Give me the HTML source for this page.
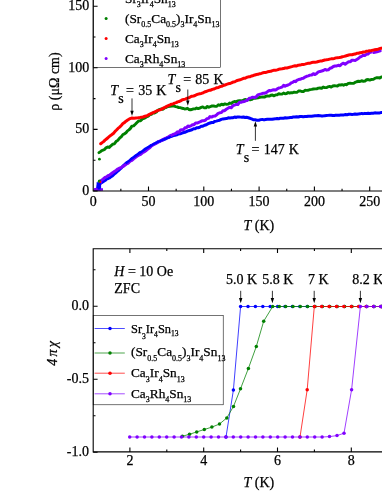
<!DOCTYPE html>
<html><head><meta charset="utf-8"><title>chart</title>
<style>html,body{margin:0;padding:0;background:#fff;}svg{display:block;}text{font-family:"Liberation Serif",serif;fill:#000;}.t{font-size:14px;}.a{font-size:14px;}.l{font-size:13.3px;}.i{font-style:italic;}svg{will-change:transform;}text{stroke:#000;stroke-width:0.25px;}.ax{stroke:#000;stroke-width:1.1;fill:none;}.lg{stroke:#000;stroke-width:0.55;fill:#fff;}</style></head><body>
<svg width="382" height="494" viewBox="0 0 382 494">
<rect width="382" height="494" fill="#fff"/>
<g fill="none" stroke-linejoin="round" stroke-linecap="round">
<polyline stroke="#0000ff" stroke-width="3.0" points="97.5,189.57 98.2,185.15 100.5,183.28 102,182.43 103.5,181.38 105,180.55 106.47,179.14 107.95,178.53 109.43,177.94 110.9,176.89 112.6,175.71 114.3,173.9 116,172.78 117.8,170.98 119.6,169.49 121.4,167.84 123.1,165.91 124.8,164.43 126.5,162.87 128.3,161.82 130.1,160.29 131.9,158.5 133.6,157.64 135.3,156.02 137,155.07 138.8,153.58 140.6,152.3 142.4,151.62 144.1,149.99 145.8,148.76 147.5,147.99 149.27,146.89 151.03,145.51 152.8,144.88 154.53,143.76 156.27,142.97 158,141.82 159.77,141.46 161.53,140.51 163.3,139.88 164.98,139.19 166.65,138.18 168.32,137.57 170,136.8 171.7,136.24 173.4,135.65 175.1,135.25 176.8,134.89 178.5,133.99 180.2,133.85 181.9,133.1 183.58,132.49 185.27,132.19 186.95,131.39 188.63,130.69 190.32,130.19 192,129.72 193.54,128.82 195.09,128.86 196.63,127.77 198.17,127.69 199.71,127.24 201.26,126.23 202.8,126.17 204.6,125.24 206.4,124.7 208.2,123.68 210,123.03 211.6,122.53 213.2,122.41 214.8,121.38 216.4,121.13 218,120.66 219.67,120.2 221.33,119.37 223,118.91 224.75,118.71 226.5,118.57 228.25,117.86 230,117.95 231.55,117.83 233.1,117.72 234.65,117.07 236.2,117.47 237.65,116.9 239.1,117 240.55,117.12 242,117.25 243.53,117 245.07,117.45 246.6,117.33 248.3,117.74 250,118.29 251.6,118.96 253.2,119.65 255.1,119.79 257,120.21 258.8,120.26 260.6,119.63 262.4,119.43 264.02,119.89 265.65,119.52 267.27,119.34 268.9,119.14 270.52,119.26 272.15,119.3 273.77,118.97 275.4,118.85 277.04,118.47 278.67,118.82 280.31,118.13 281.95,118.25 283.59,118.29 285.23,117.7 286.86,117.9 288.5,117.87 290.14,117.54 291.77,117.5 293.41,116.95 295.05,117.01 296.69,116.7 298.33,116.98 299.96,116.51 301.6,116.47 303.27,116.73 304.95,116.57 306.62,116.57 308.29,116.18 309.96,116.13 311.64,116.2 313.31,115.98 314.98,115.79 316.65,115.79 318.33,115.56 320,115.63 321.6,115.95 323.2,115.89 324.8,115.64 326.4,115.52 328,115.38 329.6,115.19 331.2,115.25 332.8,115.51 334.4,115.52 336,115.12 337.6,115.28 339.2,115.18 340.8,115.04 342.4,114.93 344,114.89 345.6,114.56 347.2,114.67 348.8,114.32 350.4,114.35 352,114.43 353.6,114.29 355.2,113.96 356.8,114.25 358.4,113.98 360,113.85 361.64,113.41 363.29,113.64 364.93,113.37 366.57,113.53 368.21,113.31 369.86,113.43 371.5,113.24 373.14,113.24 374.79,112.87 376.43,112.96 378.07,112.92 379.71,112.88 381.36,112.5 383,112.5"/>
<polyline stroke="#008000" stroke-width="2.9" points="99,152.61 100.5,151.57 101.75,150.55 103,150.16 104.5,149.44 106,147.85 107.63,147 109.27,147.47 110.9,145.84 112.6,144.27 114.3,143.88 116,141.56 117.8,140.37 119.6,138.1 121.4,136.61 122.93,134.48 124.47,133.8 126,132.75 127.47,130.88 128.95,129.86 130.43,128.41 131.9,126.15 133.6,125.85 135.3,124.27 137,122.5 138.8,120.83 140.6,120.81 142.4,118.96 143.93,118.39 145.47,117.7 147,116.52 148.45,116.06 149.9,114.49 151.35,114.33 152.8,113.02 154.6,112.95 156.4,112.07 158.2,110.1 160,109.35 161.5,108.83 163,109.3 164.5,107.85 166,107.49 168,106.45 170,106.21 172,106.03 174,105.98 175.58,106.61 177.16,106.89 178.74,107.65 180.32,107.59 181.9,108.24 183.27,108.47 184.63,109 186,108.86 187.43,108.26 188.87,109.47 190.3,109.8 191.87,109.54 193.43,108.87 195,108.92 196.56,107.95 198.12,108.66 199.68,108.05 201.24,107.4 202.8,106.85 204.33,107.86 205.87,107.9 207.4,106.38 208.93,107.28 210.47,106.53 212,105.98 213.6,105.93 215.2,106.38 216.8,106.28 218.4,104.78 220,105.37 221.63,104.16 223.26,104.81 224.89,103.88 226.51,104.34 228.14,104.14 229.77,103.07 231.4,103.45 232.96,102.12 234.52,101.49 236.08,101.98 237.64,100.84 239.2,100.8 240.76,100.82 242.32,100.84 243.88,99.86 245.44,99.4 247,100.35 248.58,99.21 250.16,99.87 251.74,99.46 253.32,98.38 254.9,98.19 256.48,97.97 258.06,97.85 259.64,97.46 261.22,97.1 262.8,96.88 264.4,97.14 266,96.26 267.6,95.92 269.2,96.13 270.8,95.18 272.4,95.05 274,95.84 275.6,94.93 277.2,94.75 278.8,93.72 280.4,94.1 282,94.12 283.52,93.07 285.05,93.75 286.57,93.56 288.1,92.49 289.62,93.13 291.15,92.67 292.68,92.78 294.2,92.08 295.65,92.41 297.1,92.26 298.55,90.98 300,90.84 301.67,91.49 303.33,91.64 305,90.3 306.67,90.33 308.33,90.26 310,89.58 311.67,89.37 313.33,89.02 315,88.83 316.67,88.89 318.33,88.18 320,88.02 321.6,88.39 323.2,87.05 324.8,87.64 326.4,87.66 328,86.8 329.6,86.45 331.2,87.1 332.8,86.03 334.4,85.73 335.91,85.86 337.43,86.01 338.94,84.87 340.46,84.96 341.97,84.74 343.49,85.24 345,84.41 346.67,84.7 348.33,83.34 350,83.26 351.67,83.39 353.33,83.41 355,82.43 356.67,81.75 358.33,81.26 360,81.54 361.64,80.71 363.29,81.32 364.93,81.04 366.57,79.74 368.21,79.56 369.86,80.03 371.5,79.46 373.14,79.39 374.79,78.38 376.43,77.73 378.07,77.65 379.71,78.08 381.36,76.98 383,77"/>
<polyline stroke="#8000ff" stroke-width="3.0" points="95,189.69 96.5,189.18 98,189.1 100,183.73 101,180.62 103,179.07 105,177.42 106.47,176.85 107.95,175.71 109.43,175.11 110.9,174.03 112.6,172.71 114.3,171.59 116,170.51 117.8,169.03 119.6,168.06 121.4,167.28 123.1,166.45 124.8,165.18 126.5,164.03 128.3,163.07 130.1,161.15 131.9,160.33 133.6,158.77 135.3,157.48 137,156.26 138.8,155.21 140.6,154.37 142.4,152.8 144.1,151.88 145.8,150.75 147.5,149.42 149.27,148.1 151.03,146.36 152.8,144.92 154.53,144.01 156.27,143.31 158,142.15 159.77,141.15 161.53,140.39 163.3,139.37 164.92,138.43 166.54,137.91 168.16,137.01 169.78,135.88 171.4,135.25 172.9,134.47 174.4,133.95 175.9,133.38 177.4,131.85 178.9,132.35 180.4,130.06 181.9,129.85 183.4,129.69 184.9,127.83 186.4,127.67 187.9,126.08 189.4,126.45 190.9,125.85 192.4,124.73 194,124.66 195.6,123.03 197.2,123.1 198.8,122.3 200.4,121.66 202,120.82 203.6,120.81 205.2,120.3 206.8,118.75 208.4,118.4 210,116.61 211.62,117.04 213.25,116.21 214.88,116.11 216.5,115.08 218.12,113.39 219.75,112.84 221.38,112.63 223,110.74 224.65,110.66 226.3,109.25 227.95,108.29 229.6,107.31 231.25,107.71 232.9,105.68 234.55,105.02 236.2,104.4 237.84,104.52 239.47,102.35 241.11,102.26 242.75,101.69 244.39,101.54 246.03,100.67 247.66,100.01 249.3,98.2 250.99,97.85 252.68,97.15 254.36,97.49 256.05,97.02 257.74,94.97 259.43,94.42 261.11,93.92 262.8,93.32 264.4,93.19 266,92.79 267.6,91.62 269.2,90.57 270.8,90.74 272.4,90.06 274,89.84 275.6,89.95 277.2,88.89 278.8,87.99 280.4,87.6 282,87.12 283.52,85.38 285.05,86.29 286.57,85.47 288.1,85.02 289.62,84.27 291.15,82.93 292.68,82.33 294.2,81.19 295.65,81.62 297.1,80.06 298.55,79.55 300,79.28 301.67,78.53 303.33,78.2 305,77.02 306.67,76.27 308.33,75.88 310,75.13 311.67,74.95 313.33,73.68 315,74.55 316.67,73.42 318.33,71.93 320,71.45 321.67,71.03 323.33,70.46 325,69.42 326.67,70.13 328.33,69.79 330,68.24 331.67,67.75 333.33,66.52 335,66.03 336.67,65.95 338.33,65.29 340,65.79 341.73,64.01 343.47,63.17 345.2,64.26 346.93,62.92 348.67,61.65 350.4,61.78 352,60.13 353.6,60.32 355.2,60.41 356.8,59.49 358.4,58.47 360,56.97 361.58,56.39 363.17,55.27 364.75,55.59 366.33,54.39 367.92,54.07 369.5,52.49 370.8,52.3"/>
<polyline stroke="#8000ff" stroke-width="2.8" points="373.6,52.6 377,51.8 380.3,51"/>
<polyline stroke="#0000ff" stroke-width="2.2" points="126.5,163 131.9,158.7 137,155 142.4,151.4 147.5,147.7 152.8,144.6 158,142 163.3,139.6 170,137"/>
<polyline stroke="#ff0000" stroke-width="3.0" points="100.7,143.78 102.13,142.63 103.57,141.61 105,140.18 106.47,138.98 107.95,137.79 109.43,136.37 110.9,135.31 112.25,134.26 113.6,133.25 115.07,131.4 116.53,130 118,128.4 119.63,127.15 121.27,125.5 122.9,123.57 124.45,122.64 126,121.23 127.7,120.03 129.4,118.96 130.7,118.43 132,118.06 134,118.26 136,117.98 137.85,117.85 139.7,117.67 141.35,117.17 143,116.98 145,116.27 147,115.77 148.95,114.61 150.9,113.67 152.6,112.83 154.3,112.15 156,111.28 158,110.34 160,109.85 161.67,109.05 163.33,108.17 165,107.3 166.67,106.37 168.33,105.6 170,104.89 171.55,104.16 173.1,103.88 174.65,103.08 176.2,102.67 177.62,101.87 179.05,101.58 180.47,100.95 181.9,99.95 183.58,99.42 185.27,99.14 186.95,98.28 188.63,97.91 190.32,96.98 192,96.19 193.56,95.94 195.12,95.49 196.69,94.71 198.25,94.09 199.81,93.69 201.38,93.48 202.94,92.85 204.5,92.01 206.05,91.53 207.6,90.92 209.15,90.36 210.7,90.19 212.25,89.34 213.8,88.99 215.35,88.39 216.9,87.73 218.45,87.46 220,86.62 221.63,86.3 223.26,85.47 224.89,85.05 226.51,84.37 228.14,83.83 229.77,83.61 231.4,82.95 233.12,82.06 234.84,81.71 236.56,80.74 238.28,80.19 240,79.78 241.75,79.12 243.5,78.3 245.25,78.19 247,77.26 248.58,76.83 250.16,76.64 251.74,75.96 253.32,75.5 254.9,74.94 256.48,74.5 258.06,74.29 259.64,73.67 261.22,73.4 262.8,72.84 264.4,72.53 266,72.43 267.6,71.84 269.2,71.54 270.8,71.33 272.4,70.64 274,70.28 275.6,70.3 277.2,69.91 278.8,69.27 280.4,68.89 282,68.82 283.64,68.58 285.27,67.88 286.91,67.92 288.55,67.55 290.18,67.07 291.82,66.64 293.45,66.15 295.09,65.78 296.73,65.9 298.36,65.21 300,65.1 301.67,64.56 303.33,64.53 305,64.1 306.67,63.63 308.33,63.25 310,63.21 311.67,62.57 313.33,62.33 315,62.18 316.67,62.01 318.33,61.57 320,61.09 321.6,61.1 323.2,60.43 324.8,60.02 326.4,59.84 328,59.62 329.6,59.11 331.2,58.86 332.8,58.65 334.4,58.44 336,57.87 337.6,57.63 339.2,57.55 340.8,57.24 342.4,56.73 344,56.4 345.6,55.99 347.2,55.42 348.8,55.02 350.4,54.66 352,54.76 353.6,54.3 355.2,54.08 356.8,53.26 358.4,53.22 360,52.79 361.64,52.57 363.29,52.01 364.93,52 366.57,51.19 368.21,51.07 369.86,50.82 371.5,50.55 373.14,50.12 374.79,49.75 376.43,49.45 378.07,49.16 379.71,48.53 381.36,48.34 383,47.9"/>
</g>
<g>
<rect x="96.6" y="182.2" width="4.5" height="8.6" fill="#0000ff"/>
<rect x="94" y="188.2" width="9" height="2.6" fill="#8000ff"/><rect x="97.6" y="186.5" width="3" height="3" fill="#0000ff"/>
<circle cx="99.4" cy="159.2" r="1.4" fill="#008000"/>
<circle cx="99.4" cy="181.2" r="1.6" fill="#008000"/>
<circle cx="100.3" cy="182" r="1.0" fill="#ff0000"/>
</g>
<rect class="lg" x="93.2" y="-5" width="127.2" height="72.6"/>
<circle cx="106.1" cy="-1.5" r="1.5" fill="#0000ff"/>
<circle cx="106.1" cy="18.5" r="1.5" fill="#008000"/>
<circle cx="106.1" cy="38.5" r="1.5" fill="#ff0000"/>
<circle cx="106.1" cy="58.5" r="1.5" fill="#8000ff"/>
<text class="l" x="125" y="3"><tspan dy="0">Sr</tspan><tspan font-size="8px" dy="4">3</tspan><tspan dy="-4">Ir</tspan><tspan font-size="8px" dy="4">4</tspan><tspan dy="-4">Sn</tspan><tspan font-size="8px" dy="4">13</tspan></text>
<text class="l" x="125" y="23"><tspan dy="0">(Sr</tspan><tspan font-size="8px" dy="4">0.5</tspan><tspan dy="-4">Ca</tspan><tspan font-size="8px" dy="4">0.5</tspan><tspan dy="-4">)</tspan><tspan font-size="8px" dy="4">3</tspan><tspan dy="-4">Ir</tspan><tspan font-size="8px" dy="4">4</tspan><tspan dy="-4">Sn</tspan><tspan font-size="8px" dy="4">13</tspan></text>
<text class="l" x="125" y="43"><tspan dy="0">Ca</tspan><tspan font-size="8px" dy="4">3</tspan><tspan dy="-4">Ir</tspan><tspan font-size="8px" dy="4">4</tspan><tspan dy="-4">Sn</tspan><tspan font-size="8px" dy="4">13</tspan></text>
<text class="l" x="125" y="63"><tspan dy="0">Ca</tspan><tspan font-size="8px" dy="4">3</tspan><tspan dy="-4">Rh</tspan><tspan font-size="8px" dy="4">4</tspan><tspan dy="-4">Sn</tspan><tspan font-size="8px" dy="4">13</tspan></text>
<path class="ax" d="M93.2 -2V191 H384"/>
<path class="ax" d="M93.2 191h4.4M93.2 160.2h2.3M93.2 129.4h4.4M93.2 98.6h2.3M93.2 67.8h4.4M93.2 37h2.3M93.2 6.2h4.4M120.85 191v-2.3M148.5 191v-4.4M176.15 191v-2.3M203.8 191v-4.4M231.45 191v-2.3M259.1 191v-4.4M286.75 191v-2.3M314.4 191v-4.4M342.05 191v-2.3M369.7 191v-4.4"/>
<text class="t" text-anchor="end" x="89.3" y="194.9">0</text>
<text class="t" text-anchor="end" x="89.3" y="133.3">50</text>
<text class="t" text-anchor="end" x="89.3" y="71.7">100</text>
<text class="t" text-anchor="end" x="89.3" y="10.1">150</text>
<text class="t" text-anchor="middle" x="93.2" y="206.3">0</text>
<text class="t" text-anchor="middle" x="148.5" y="206.3">50</text>
<text class="t" text-anchor="middle" x="203.8" y="206.3">100</text>
<text class="t" text-anchor="middle" x="259.1" y="206.3">150</text>
<text class="t" text-anchor="middle" x="314.4" y="206.3">200</text>
<text class="t" text-anchor="middle" x="369.7" y="206.3">250</text>
<text class="a" x="243.5" y="229.6"><tspan class="i">T</tspan> (K)</text>
<text class="a" text-anchor="middle" transform="translate(58.6 81.5) rotate(-90)">ρ (μΩ cm)</text>
<text class="a" x="110.3" y="95"><tspan class="i">T</tspan><tspan font-size="14px" dy="7.6" dx="0.2">s</tspan><tspan dy="-7.6" dx="-1.9" word-spacing="0.7"> = 35 K</tspan></text>
<text class="a" x="167.5" y="84"><tspan class="i">T</tspan><tspan font-size="14px" dy="7.6" dx="0.2">s</tspan><tspan dy="-7.6" dx="-1.9" word-spacing="0.7"> = 85 K</tspan></text>
<text class="a" x="235.8" y="154"><tspan class="i">T</tspan><tspan font-size="14px" dy="7.6" dx="0.2">s</tspan><tspan dy="-7.6" dx="-1.9" word-spacing="0.7"> = 147 K</tspan></text>
<path d="M132 98.4V113" stroke="#000" stroke-width="0.8" fill="none"/><path d="M132 116l-1.7 -5.2h3.4z" fill="#000"/>
<path d="M187.8 89.5V102.8" stroke="#000" stroke-width="0.8" fill="none"/><path d="M187.8 105.8l-1.7 -5.2h3.4z" fill="#000"/>
<path d="M255.4 140.8V124.2" stroke="#000" stroke-width="0.8" fill="none"/><path d="M255.4 121.2l-1.7 5.2h3.4z" fill="#000"/>
<g>
<polyline fill="none" stroke="#0000ff" stroke-width="0.75" points="226,437 233.4,390 240.6,306.5 248,306.5 255.4,306.5 262.8,306.5 270.2,306.5 277.6,306.5 285,306.5 292.4,306.5 299.8,306.5 307.2,306.5 314.6,306.5 322,306.5 329.4,306.5 336.8,306.5 344.2,306.5 351.6,306.5 359,306.5 366.4,306.5 373.8,306.5 381.2,306.5 388.6,306.5 396,306.5"/><circle cx="226" cy="437" r="1.75" fill="#0000ff"/><circle cx="233.4" cy="390" r="1.75" fill="#0000ff"/><circle cx="240.6" cy="306.5" r="1.75" fill="#0000ff"/><circle cx="248" cy="306.5" r="1.75" fill="#0000ff"/><circle cx="255.4" cy="306.5" r="1.75" fill="#0000ff"/><circle cx="262.8" cy="306.5" r="1.75" fill="#0000ff"/><circle cx="270.2" cy="306.5" r="1.75" fill="#0000ff"/><circle cx="277.6" cy="306.5" r="1.75" fill="#0000ff"/><circle cx="285" cy="306.5" r="1.75" fill="#0000ff"/><circle cx="292.4" cy="306.5" r="1.75" fill="#0000ff"/><circle cx="299.8" cy="306.5" r="1.75" fill="#0000ff"/><circle cx="307.2" cy="306.5" r="1.75" fill="#0000ff"/><circle cx="314.6" cy="306.5" r="1.75" fill="#0000ff"/><circle cx="322" cy="306.5" r="1.75" fill="#0000ff"/><circle cx="329.4" cy="306.5" r="1.75" fill="#0000ff"/><circle cx="336.8" cy="306.5" r="1.75" fill="#0000ff"/><circle cx="344.2" cy="306.5" r="1.75" fill="#0000ff"/><circle cx="351.6" cy="306.5" r="1.75" fill="#0000ff"/><circle cx="359" cy="306.5" r="1.75" fill="#0000ff"/><circle cx="366.4" cy="306.5" r="1.75" fill="#0000ff"/><circle cx="373.8" cy="306.5" r="1.75" fill="#0000ff"/><circle cx="381.2" cy="306.5" r="1.75" fill="#0000ff"/><circle cx="388.6" cy="306.5" r="1.75" fill="#0000ff"/><circle cx="396" cy="306.5" r="1.75" fill="#0000ff"/>
<polyline fill="none" stroke="#008000" stroke-width="0.75" points="182.4,436.2 189.5,434.3 196.7,431.9 204.3,429.5 211.9,427.1 219.5,424 226.8,417.9 233.5,406.4 240.5,388.8 248.4,368.4 256.3,346.5 263.7,321.2 272.7,306.5 279.3,306.5 285.7,306.5 293,306.5 300.3,306.5 307.6,306.5 315,306.5 322.4,306.5 329.8,306.5 337.2,306.5 344.6,306.5 352,306.5 359.4,306.5 366.8,306.5 374.2,306.5 381.6,306.5 389,306.5 396.4,306.5"/><circle cx="182.4" cy="436.2" r="1.75" fill="#008000"/><circle cx="189.5" cy="434.3" r="1.75" fill="#008000"/><circle cx="196.7" cy="431.9" r="1.75" fill="#008000"/><circle cx="204.3" cy="429.5" r="1.75" fill="#008000"/><circle cx="211.9" cy="427.1" r="1.75" fill="#008000"/><circle cx="219.5" cy="424" r="1.75" fill="#008000"/><circle cx="226.8" cy="417.9" r="1.75" fill="#008000"/><circle cx="233.5" cy="406.4" r="1.75" fill="#008000"/><circle cx="240.5" cy="388.8" r="1.75" fill="#008000"/><circle cx="248.4" cy="368.4" r="1.75" fill="#008000"/><circle cx="256.3" cy="346.5" r="1.75" fill="#008000"/><circle cx="263.7" cy="321.2" r="1.75" fill="#008000"/><circle cx="272.7" cy="306.5" r="1.75" fill="#008000"/><circle cx="279.3" cy="306.5" r="1.75" fill="#008000"/><circle cx="285.7" cy="306.5" r="1.75" fill="#008000"/><circle cx="293" cy="306.5" r="1.75" fill="#008000"/><circle cx="300.3" cy="306.5" r="1.75" fill="#008000"/><circle cx="307.6" cy="306.5" r="1.75" fill="#008000"/><circle cx="315" cy="306.5" r="1.75" fill="#008000"/><circle cx="322.4" cy="306.5" r="1.75" fill="#008000"/><circle cx="329.8" cy="306.5" r="1.75" fill="#008000"/><circle cx="337.2" cy="306.5" r="1.75" fill="#008000"/><circle cx="344.6" cy="306.5" r="1.75" fill="#008000"/><circle cx="352" cy="306.5" r="1.75" fill="#008000"/><circle cx="359.4" cy="306.5" r="1.75" fill="#008000"/><circle cx="366.8" cy="306.5" r="1.75" fill="#008000"/><circle cx="374.2" cy="306.5" r="1.75" fill="#008000"/><circle cx="381.6" cy="306.5" r="1.75" fill="#008000"/><circle cx="389" cy="306.5" r="1.75" fill="#008000"/><circle cx="396.4" cy="306.5" r="1.75" fill="#008000"/>
<polyline fill="none" stroke="#ff0000" stroke-width="0.75" points="300,437 307.2,389.7 314.3,306.5 321.7,306.5 329.1,306.5 336.5,306.5 343.9,306.5 351.3,306.5 358.7,306.5 366.1,306.5 373.5,306.5 380.9,306.5 388.3,306.5 395.7,306.5"/><circle cx="300" cy="437" r="1.75" fill="#ff0000"/><circle cx="307.2" cy="389.7" r="1.75" fill="#ff0000"/><circle cx="314.3" cy="306.5" r="1.75" fill="#ff0000"/><circle cx="321.7" cy="306.5" r="1.75" fill="#ff0000"/><circle cx="329.1" cy="306.5" r="1.75" fill="#ff0000"/><circle cx="336.5" cy="306.5" r="1.75" fill="#ff0000"/><circle cx="343.9" cy="306.5" r="1.75" fill="#ff0000"/><circle cx="351.3" cy="306.5" r="1.75" fill="#ff0000"/><circle cx="358.7" cy="306.5" r="1.75" fill="#ff0000"/><circle cx="366.1" cy="306.5" r="1.75" fill="#ff0000"/><circle cx="373.5" cy="306.5" r="1.75" fill="#ff0000"/><circle cx="380.9" cy="306.5" r="1.75" fill="#ff0000"/><circle cx="388.3" cy="306.5" r="1.75" fill="#ff0000"/><circle cx="395.7" cy="306.5" r="1.75" fill="#ff0000"/>
<polyline fill="none" stroke="#8000ff" stroke-width="0.75" points="129.7,437 137.1,437 144.5,437 151.9,437 159.3,437 166.7,437 174.1,437 181.5,437 188.9,437 196.3,437 203.7,437 211.1,437 218.5,437 225.9,437 233.3,437 240.7,437 248.1,437 255.5,437 262.9,437 270.3,437 277.7,437 285.1,437 292.5,437 299.9,437 307.3,437 314.7,437 322.1,437 329.5,436.6 337,435.6 344,433.2 351.6,389.7 360.4,306.5 366.9,306.5 373.7,306.5 380.6,306.5 387.5,306.5"/><circle cx="129.7" cy="437" r="1.75" fill="#8000ff"/><circle cx="137.1" cy="437" r="1.75" fill="#8000ff"/><circle cx="144.5" cy="437" r="1.75" fill="#8000ff"/><circle cx="151.9" cy="437" r="1.75" fill="#8000ff"/><circle cx="159.3" cy="437" r="1.75" fill="#8000ff"/><circle cx="166.7" cy="437" r="1.75" fill="#8000ff"/><circle cx="174.1" cy="437" r="1.75" fill="#8000ff"/><circle cx="181.5" cy="437" r="1.75" fill="#8000ff"/><circle cx="188.9" cy="437" r="1.75" fill="#8000ff"/><circle cx="196.3" cy="437" r="1.75" fill="#8000ff"/><circle cx="203.7" cy="437" r="1.75" fill="#8000ff"/><circle cx="211.1" cy="437" r="1.75" fill="#8000ff"/><circle cx="218.5" cy="437" r="1.75" fill="#8000ff"/><circle cx="225.9" cy="437" r="1.75" fill="#8000ff"/><circle cx="233.3" cy="437" r="1.75" fill="#8000ff"/><circle cx="240.7" cy="437" r="1.75" fill="#8000ff"/><circle cx="248.1" cy="437" r="1.75" fill="#8000ff"/><circle cx="255.5" cy="437" r="1.75" fill="#8000ff"/><circle cx="262.9" cy="437" r="1.75" fill="#8000ff"/><circle cx="270.3" cy="437" r="1.75" fill="#8000ff"/><circle cx="277.7" cy="437" r="1.75" fill="#8000ff"/><circle cx="285.1" cy="437" r="1.75" fill="#8000ff"/><circle cx="292.5" cy="437" r="1.75" fill="#8000ff"/><circle cx="299.9" cy="437" r="1.75" fill="#8000ff"/><circle cx="307.3" cy="437" r="1.75" fill="#8000ff"/><circle cx="314.7" cy="437" r="1.75" fill="#8000ff"/><circle cx="322.1" cy="437" r="1.75" fill="#8000ff"/><circle cx="329.5" cy="436.6" r="1.75" fill="#8000ff"/><circle cx="337" cy="435.6" r="1.75" fill="#8000ff"/><circle cx="344" cy="433.2" r="1.75" fill="#8000ff"/><circle cx="351.6" cy="389.7" r="1.75" fill="#8000ff"/><circle cx="360.4" cy="306.5" r="1.75" fill="#8000ff"/><circle cx="366.9" cy="306.5" r="1.75" fill="#8000ff"/><circle cx="373.7" cy="306.5" r="1.75" fill="#8000ff"/><circle cx="380.6" cy="306.5" r="1.75" fill="#8000ff"/><circle cx="387.5" cy="306.5" r="1.75" fill="#8000ff"/>
</g>
<rect class="lg" x="93.2" y="315.4" width="130" height="89.4"/>
<path d="M94.6 328.5H124.8" stroke="#0000ff" stroke-width="0.7"/><circle cx="110" cy="328.5" r="1.75" fill="#0000ff"/>
<path d="M94.6 353H124.8" stroke="#008000" stroke-width="0.7"/><circle cx="110" cy="353" r="1.75" fill="#008000"/>
<path d="M94.6 373.2H124.8" stroke="#ff0000" stroke-width="0.7"/><circle cx="110" cy="373.2" r="1.75" fill="#ff0000"/>
<path d="M94.6 393.8H124.8" stroke="#8000ff" stroke-width="0.7"/><circle cx="110" cy="393.8" r="1.75" fill="#8000ff"/>
<text class="l" style="font-size:12.4px" x="131" y="332.7">Sr<tspan font-size="7.6px" dy="6.6">3</tspan><tspan dy="-6.6">Ir</tspan><tspan font-size="7.6px" dy="4.5">4</tspan><tspan dy="-4.5">Sn</tspan><tspan font-size="7.6px" dy="3.6">13</tspan></text>
<text class="l" x="131" y="355.7"><tspan dy="0">(Sr</tspan><tspan font-size="8px" dy="4.8">0.5</tspan><tspan dy="-4.8">Ca</tspan><tspan font-size="8px" dy="4.8">0.5</tspan><tspan dy="-4.8">)</tspan><tspan font-size="8px" dy="4.8">3</tspan><tspan dy="-4.8">Ir</tspan><tspan font-size="8px" dy="4.8">4</tspan><tspan dy="-4.8">Sn</tspan><tspan font-size="8px" dy="4.8">13</tspan></text>
<text class="l" x="131" y="377.2"><tspan dy="0">Ca</tspan><tspan font-size="8px" dy="4.4">3</tspan><tspan dy="-4.4">Ir</tspan><tspan font-size="8px" dy="4.4">4</tspan><tspan dy="-4.4">Sn</tspan><tspan font-size="8px" dy="4.4">13</tspan></text>
<text class="l" x="131" y="397.8"><tspan dy="0">Ca</tspan><tspan font-size="8px" dy="4.4">3</tspan><tspan dy="-4.4">Rh</tspan><tspan font-size="8px" dy="4.4">4</tspan><tspan dy="-4.4">Sn</tspan><tspan font-size="8px" dy="4.4">13</tspan></text>
<path class="ax" d="M384 248.7H93.2V451.9H384"/>
<path class="ax" d="M93.2 452.2h4.4M93.2 415.7h2.3M93.2 379.2h4.4M93.2 342.7h2.3M93.2 306.2h4.4M93.2 269.7h2.3M129.9 451.9v-4.4M129.9 248.7v4.4M166.8 451.9v-2.3M166.8 248.7v2.3M203.7 451.9v-4.4M203.7 248.7v4.4M240.6 451.9v-2.3M240.6 248.7v2.3M277.5 451.9v-4.4M277.5 248.7v4.4M314.4 451.9v-2.3M314.4 248.7v2.3M351.3 451.9v-4.4M351.3 248.7v4.4"/>
<text class="t" text-anchor="end" x="88.9" y="310.1">0.0</text>
<text class="t" text-anchor="end" x="88.9" y="383.1">-0.5</text>
<text class="t" text-anchor="end" x="88.9" y="456.1">-1.0</text>
<text class="t" text-anchor="middle" x="129.9" y="465.2">2</text>
<text class="t" text-anchor="middle" x="203.7" y="465.2">4</text>
<text class="t" text-anchor="middle" x="277.5" y="465.2">6</text>
<text class="t" text-anchor="middle" x="351.3" y="465.2">8</text>
<text class="a" x="243.5" y="487"><tspan class="i">T</tspan> (K)</text>
<text class="a i" text-anchor="middle" letter-spacing="2.2" transform="translate(57 352.3) rotate(-90)">4πχ</text>
<text class="a" x="114.3" y="276.1"><tspan class="i">H</tspan> = 10 Oe</text>
<text class="a" x="114.3" y="293.3">ZFC</text>
<text class="a" text-anchor="middle" x="241.5" y="284">5.0 K</text>
<text class="a" text-anchor="middle" x="277.8" y="284">5.8 K</text>
<text class="a" text-anchor="middle" x="318.2" y="284">7 K</text>
<text class="a" text-anchor="start" x="352.3" y="284">8.2 K</text>
<path d="M240.7 290.8V300.2" stroke="#000" stroke-width="0.8" fill="none"/><path d="M240.7 303.2l-1.7 -5.2h3.4z" fill="#000"/>
<path d="M272.4 290.8V300.2" stroke="#000" stroke-width="0.8" fill="none"/><path d="M272.4 303.2l-1.7 -5.2h3.4z" fill="#000"/>
<path d="M314.2 290.8V300.2" stroke="#000" stroke-width="0.8" fill="none"/><path d="M314.2 303.2l-1.7 -5.2h3.4z" fill="#000"/>
<path d="M360.4 290.8V300.2" stroke="#000" stroke-width="0.8" fill="none"/><path d="M360.4 303.2l-1.7 -5.2h3.4z" fill="#000"/>
</svg></body></html>
